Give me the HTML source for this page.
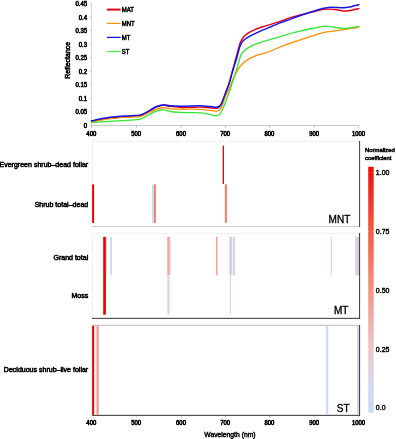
<!DOCTYPE html>
<html lang="en"><head><meta charset="utf-8"><title>Reflectance spectra and normalized coefficients</title>
<style>html,body{margin:0;padding:0;background:#fff}svg{display:block;will-change:transform}text{font-family:"Liberation Sans",sans-serif;fill:#000;stroke:#000}</style></head><body>
<svg width="396" height="439" viewBox="0 0 396 439">
<rect width="396" height="439" fill="#fff"/>
<g stroke="#bdbdbd" stroke-width="0.9" fill="none">
<path d="M91.5 3.3V125.45" stroke="#d2d2d2"/><path d="M91 125.45H359"/>
<path d="M89.6 125.2H91.5" stroke-width="0.7"/>
<path d="M89.6 111.8H91.5" stroke-width="0.7"/>
<path d="M89.6 98.2H91.5" stroke-width="0.7"/>
<path d="M89.6 84.6H91.5" stroke-width="0.7"/>
<path d="M89.6 71.3H91.5" stroke-width="0.7"/>
<path d="M89.6 57.6H91.5" stroke-width="0.7"/>
<path d="M89.6 44.1H91.5" stroke-width="0.7"/>
<path d="M89.6 30.4H91.5" stroke-width="0.7"/>
<path d="M89.6 16.7H91.5" stroke-width="0.7"/>
<path d="M89.6 3.3H91.5" stroke-width="0.7"/>
<path d="M91.5 125.4V127.8" stroke="#9a9a9a" stroke-width="0.6"/>
<path d="M136.4 125.4V127.8" stroke="#9a9a9a" stroke-width="0.6"/>
<path d="M181.2 125.4V127.8" stroke="#9a9a9a" stroke-width="0.6"/>
<path d="M225.4 125.4V127.8" stroke="#9a9a9a" stroke-width="0.6"/>
<path d="M269.6 125.4V127.8" stroke="#9a9a9a" stroke-width="0.6"/>
<path d="M314.3 125.4V127.8" stroke="#9a9a9a" stroke-width="0.6"/>
<path d="M358.7 125.4V127.8" stroke="#9a9a9a" stroke-width="0.6"/>
</g>
<text transform="translate(87.1 127.7) scale(0.940 1)" font-size="6.4" text-anchor="end" stroke-width="0.60">0</text>
<text transform="translate(87.1 114.3) scale(0.940 1)" font-size="6.4" text-anchor="end" stroke-width="0.60">0.05</text>
<text transform="translate(87.1 100.7) scale(0.940 1)" font-size="6.4" text-anchor="end" stroke-width="0.60">0.1</text>
<text transform="translate(87.1 87.1) scale(0.940 1)" font-size="6.4" text-anchor="end" stroke-width="0.60">0.15</text>
<text transform="translate(87.1 74.2) scale(0.940 1)" font-size="6.4" text-anchor="end" stroke-width="0.60">0.2</text>
<text transform="translate(87.1 60.1) scale(0.940 1)" font-size="6.4" text-anchor="end" stroke-width="0.60">0.25</text>
<text transform="translate(87.1 47.0) scale(0.940 1)" font-size="6.4" text-anchor="end" stroke-width="0.60">0.3</text>
<text transform="translate(87.1 32.9) scale(0.940 1)" font-size="6.4" text-anchor="end" stroke-width="0.60">0.35</text>
<text transform="translate(87.1 19.6) scale(0.940 1)" font-size="6.4" text-anchor="end" stroke-width="0.60">0.4</text>
<text transform="translate(87.1 5.8) scale(0.940 1)" font-size="6.4" text-anchor="end" stroke-width="0.60">0.45</text>
<text transform="translate(91.3 135.8) scale(0.940 1)" font-size="6.3" text-anchor="middle" stroke-width="0.60">400</text>
<text transform="translate(136.2 135.8) scale(0.940 1)" font-size="6.3" text-anchor="middle" stroke-width="0.60">500</text>
<text transform="translate(181.0 135.8) scale(0.940 1)" font-size="6.3" text-anchor="middle" stroke-width="0.60">600</text>
<text transform="translate(225.2 135.8) scale(0.940 1)" font-size="6.3" text-anchor="middle" stroke-width="0.60">700</text>
<text transform="translate(269.4 135.8) scale(0.940 1)" font-size="6.3" text-anchor="middle" stroke-width="0.60">800</text>
<text transform="translate(314.1 135.8) scale(0.940 1)" font-size="6.3" text-anchor="middle" stroke-width="0.60">900</text>
<text transform="translate(358.5 135.8) scale(0.940 1)" font-size="6.3" text-anchor="middle" stroke-width="0.60">1000</text>
<text transform="translate(69.6 60.3) rotate(-90) scale(0.920 1)" font-size="7.6" text-anchor="middle" stroke-width="0.60">Reflectance</text>
<g fill="none" stroke-linejoin="round" stroke-linecap="round">
<path stroke="#e6001a" stroke-width="1.4" d="M91.5 121.3C94.6 120.8 103.7 118.8 110.2 118.0C116.7 117.2 125.4 116.8 130.4 116.4C135.5 116.0 137.1 116.5 140.5 115.5C143.9 114.5 148.0 111.7 150.6 110.3C153.2 108.9 154.3 108.0 156.0 107.2C157.7 106.4 159.5 105.8 161.0 105.5C162.5 105.2 163.5 105.1 165.0 105.3C166.5 105.5 167.6 106.1 170.2 106.4C172.8 106.8 176.9 107.2 180.3 107.4C183.7 107.6 187.0 107.3 190.4 107.3C193.8 107.2 197.1 107.0 200.5 107.1C203.9 107.2 208.2 107.6 210.6 107.8C213.0 108.0 213.8 108.3 215.0 108.3C216.2 108.3 216.9 108.2 217.6 108.0C218.3 107.8 218.9 107.4 219.4 107.0C219.9 106.6 220.3 106.1 220.7 105.4C221.1 104.7 221.2 104.7 221.9 103.0C222.6 101.3 224.0 97.5 224.8 95.2C225.7 92.9 226.2 91.2 227.0 89.1C227.8 87.0 228.4 85.7 229.3 82.8C230.2 79.9 231.3 75.0 232.2 71.8C233.0 68.6 233.7 66.4 234.4 63.8C235.1 61.2 235.8 58.6 236.5 56.0C237.2 53.4 237.9 50.5 238.5 48.3C239.1 46.1 239.5 44.4 240.3 42.6C241.1 40.8 242.0 39.0 243.2 37.5C244.4 36.0 245.8 34.6 247.7 33.3C249.6 32.0 252.0 30.9 254.4 29.9C256.8 28.8 259.5 27.9 262.0 27.0C264.5 26.1 266.3 25.7 269.3 24.8C272.3 23.9 276.4 22.6 280.0 21.4C283.6 20.2 287.1 18.7 290.6 17.6C294.1 16.5 297.7 15.7 301.2 14.8C304.7 13.9 308.3 13.0 311.8 12.1C315.3 11.2 319.6 10.0 322.4 9.5C325.2 9.0 326.7 9.1 328.8 9.1C330.9 9.1 332.7 9.2 335.2 9.5C337.7 9.8 341.1 10.8 343.6 11.0C346.1 11.2 348.2 10.8 350.0 10.6C351.8 10.3 352.7 9.8 354.2 9.5C355.7 9.2 358.1 8.7 358.9 8.5"/>
<path stroke="#ff8c00" stroke-width="1.3" d="M91.5 121.8C94.6 121.3 103.7 119.4 110.2 118.6C116.7 117.8 125.4 117.4 130.4 117.0C135.5 116.6 137.1 117.1 140.5 116.3C143.9 115.5 148.0 113.2 150.6 112.0C153.2 110.8 154.3 110.1 156.0 109.4C157.7 108.7 159.5 108.3 161.0 108.0C162.5 107.7 163.5 107.7 165.0 107.8C166.5 107.9 167.6 108.6 170.2 108.8C172.8 109.0 176.9 109.1 180.3 109.2C183.7 109.3 187.0 109.2 190.4 109.2C193.8 109.2 197.1 109.1 200.5 109.3C203.9 109.5 208.2 110.3 210.6 110.6C213.0 110.9 213.8 111.0 215.0 111.1C216.2 111.2 216.9 111.2 217.6 111.0C218.3 110.8 218.9 110.6 219.4 110.2C219.9 109.8 220.3 109.4 220.7 108.8C221.1 108.2 221.2 108.3 221.9 106.5C222.6 104.7 224.0 100.2 224.8 98.0C225.7 95.8 226.2 94.6 227.0 93.0C227.8 91.4 228.4 90.3 229.3 88.3C230.2 86.3 231.3 82.9 232.2 80.9C233.0 78.9 233.7 77.8 234.4 76.3C235.2 74.8 235.8 73.6 236.7 72.0C237.6 70.4 238.6 68.3 239.8 66.7C241.0 65.1 242.7 63.5 244.1 62.2C245.5 60.9 246.8 60.1 248.5 59.1C250.2 58.1 252.2 57.2 254.4 56.3C256.6 55.4 259.5 54.6 262.0 53.8C264.5 53.0 266.3 52.6 269.3 51.5C272.3 50.4 276.4 48.4 280.0 47.0C283.6 45.6 287.1 44.3 290.6 43.1C294.1 41.9 297.7 40.9 301.2 39.7C304.7 38.5 308.3 37.2 311.8 36.1C315.3 35.0 319.9 33.6 322.4 32.9C324.9 32.2 324.9 32.1 326.7 31.8C328.5 31.5 330.2 31.6 333.0 31.2C335.8 30.8 340.8 30.1 343.6 29.7C346.4 29.3 348.2 28.9 350.0 28.6C351.8 28.3 352.7 28.2 354.2 28.0C355.7 27.8 358.1 27.3 358.9 27.2"/>
<path stroke="#1414e6" stroke-width="1.5" d="M91.5 120.8C94.6 120.2 103.7 118.1 110.2 117.3C116.7 116.5 125.4 116.1 130.4 115.7C135.5 115.3 137.1 115.9 140.5 114.9C143.9 113.9 148.0 111.2 150.6 109.8C153.2 108.4 154.3 107.6 156.0 106.8C157.7 106.0 159.5 105.5 161.0 105.2C162.5 104.9 163.5 104.9 165.0 105.0C166.5 105.1 167.6 105.6 170.2 105.8C172.8 106.0 176.9 106.2 180.3 106.2C183.7 106.2 187.0 106.1 190.4 106.0C193.8 105.9 197.1 105.7 200.5 105.8C203.9 105.9 208.2 106.4 210.6 106.6C213.0 106.8 213.8 107.1 215.0 107.2C216.2 107.3 216.9 107.2 217.6 107.0C218.3 106.8 218.9 106.6 219.4 106.2C219.9 105.8 220.3 105.4 220.7 104.8C221.1 104.2 221.2 104.2 221.9 102.6C222.6 101.0 224.0 97.2 224.8 95.0C225.7 92.8 226.2 91.1 227.0 89.1C227.8 87.1 228.4 85.8 229.3 83.1C230.2 80.4 231.3 75.8 232.2 72.8C233.0 69.8 233.7 67.8 234.4 65.4C235.1 63.0 235.9 60.9 236.6 58.5C237.3 56.1 238.0 53.2 238.6 51.0C239.2 48.8 239.6 47.0 240.4 45.3C241.2 43.6 242.0 42.1 243.2 40.8C244.4 39.5 245.8 38.4 247.7 37.3C249.6 36.1 252.0 35.0 254.4 33.9C256.8 32.8 259.5 31.5 262.0 30.4C264.5 29.3 266.3 28.6 269.3 27.4C272.3 26.1 276.4 24.3 280.0 22.9C283.6 21.5 287.1 20.4 290.6 19.1C294.1 17.8 297.7 16.5 301.2 15.3C304.7 14.1 308.3 12.8 311.8 11.7C315.3 10.6 319.6 9.2 322.4 8.5C325.2 7.8 326.7 7.6 328.8 7.4C330.9 7.2 332.7 7.3 335.2 7.4C337.7 7.5 341.1 7.9 343.6 7.8C346.1 7.7 348.2 7.3 350.0 7.0C351.8 6.7 352.7 6.1 354.2 5.7C355.7 5.3 358.1 4.9 358.9 4.7"/>
<path stroke="#33e633" stroke-width="1.3" d="M91.5 122.6C94.6 122.4 103.7 121.7 110.2 121.3C116.7 120.9 125.4 120.5 130.4 120.1C135.5 119.7 137.1 120.1 140.5 119.1C143.9 118.1 148.0 115.2 150.6 113.9C153.2 112.6 154.3 111.9 156.0 111.2C157.7 110.5 159.5 110.2 161.0 110.0C162.5 109.8 163.5 109.8 165.0 110.1C166.5 110.3 167.6 111.1 170.2 111.5C172.8 111.9 176.9 112.2 180.3 112.4C183.7 112.6 187.0 112.5 190.4 112.6C193.8 112.7 197.1 112.6 200.5 112.9C203.9 113.2 208.3 114.1 210.6 114.6C212.9 115.0 213.4 115.4 214.5 115.6C215.6 115.8 216.4 115.7 217.2 115.6C218.0 115.5 218.6 115.2 219.2 114.8C219.8 114.4 220.1 113.9 220.6 113.2C221.1 112.5 221.2 112.3 221.9 110.8C222.6 109.2 224.0 106.0 224.8 103.9C225.7 101.8 226.2 100.0 227.0 98.0C227.8 96.0 228.4 94.5 229.3 92.0C230.2 89.5 231.3 85.7 232.2 83.1C233.0 80.5 233.7 78.7 234.4 76.5C235.1 74.3 235.9 72.0 236.6 69.8C237.3 67.6 237.8 65.5 238.4 63.5C239.0 61.5 239.4 59.2 240.0 57.5C240.6 55.8 241.2 54.5 242.0 53.3C242.8 52.1 243.5 51.3 244.6 50.4C245.7 49.5 246.9 48.6 248.5 47.6C250.1 46.6 252.2 45.5 254.4 44.6C256.6 43.7 259.5 42.8 262.0 42.0C264.5 41.2 266.3 40.7 269.3 39.8C272.3 38.9 276.4 37.6 280.0 36.6C283.6 35.6 287.1 34.5 290.6 33.5C294.1 32.5 297.7 31.6 301.2 30.8C304.7 30.0 308.8 29.1 311.8 28.5C314.8 27.9 317.1 27.4 319.0 27.0C320.9 26.6 321.8 26.5 323.0 26.4C324.2 26.3 325.3 26.2 326.5 26.3C327.7 26.4 328.6 26.5 330.0 26.7C331.4 26.9 332.7 27.2 335.0 27.5C337.3 27.8 341.1 28.2 343.6 28.3C346.1 28.4 348.2 28.2 350.0 28.0C351.8 27.8 352.7 27.4 354.2 27.2C355.7 26.9 358.1 26.6 358.9 26.5"/>
</g>
<path d="M107 9.6H120.7" stroke="#e6001a" stroke-width="2.0"/>
<text transform="translate(121.7 11.9) scale(0.920 1)" font-size="6.5" text-anchor="start" stroke-width="0.50">MAT</text>
<path d="M107 23.4H120.7" stroke="#ff8c00" stroke-width="1.2"/>
<text transform="translate(121.7 25.7) scale(0.920 1)" font-size="6.5" text-anchor="start" stroke-width="0.50">MNT</text>
<path d="M107 37.4H120.7" stroke="#1414e6" stroke-width="1.3"/>
<text transform="translate(121.7 39.7) scale(0.920 1)" font-size="6.5" text-anchor="start" stroke-width="0.50">MT</text>
<path d="M107 51.5H120.7" stroke="#44ee44" stroke-width="1.3"/>
<text transform="translate(121.7 53.8) scale(0.920 1)" font-size="6.5" text-anchor="start" stroke-width="0.50">ST</text>
<path d="M92.3 226.6V141.4H359.5" fill="none" stroke="#f1f1f1" stroke-width="1"/>
<path d="M92 226.6H359.5" fill="none" stroke="#cccccc" stroke-width="1"/>
<path d="M359.6 141V227.1" fill="none" stroke="#3c3c3c" stroke-width="1"/>
<rect x="222.7" y="145.6" width="1.3" height="38.4" fill="#ee0000"/>
<rect x="92.1" y="184.3" width="2.0" height="38.6" fill="#ee0000"/>
<rect x="152.1" y="184.3" width="2.0" height="38.6" fill="#c6d9f6"/>
<rect x="154.1" y="184.3" width="1.8" height="38.6" fill="#f4766a"/>
<rect x="224.8" y="184.3" width="2.2" height="38.6" fill="#f5857a"/>
<path d="M92.3 318V233.3H359.5" fill="none" stroke="#f1f1f1" stroke-width="1"/>
<path d="M92 318.35H360.1M359.6 233V318.35" fill="none" stroke="#333" stroke-width="1"/>
<rect x="103.2" y="236.8" width="2.7" height="77.8" fill="#ee0000"/>
<rect x="105.9" y="236.8" width="1.1" height="38.5" fill="#c6d9f6"/>
<rect x="110.2" y="236.8" width="1.8" height="38.5" fill="#c6d9f6"/>
<rect x="167.3" y="236.8" width="2.4" height="38.5" fill="#f5a29c"/>
<rect x="169.7" y="236.8" width="1.1" height="38.5" fill="#dcd3ee"/>
<rect x="167.3" y="275.3" width="2.3" height="39.3" fill="#e8d0e0"/>
<rect x="216.2" y="236.8" width="1.2" height="38.5" fill="#f28a84"/>
<rect x="229.6" y="236.8" width="1.2" height="38.5" fill="#f4a8a4"/>
<rect x="230.8" y="236.8" width="1.5" height="38.5" fill="#c6d9f6"/>
<rect x="232.8" y="236.8" width="1.1" height="38.5" fill="#c6d9f6"/>
<rect x="233.9" y="236.8" width="1.0" height="38.5" fill="#e8c4d4"/>
<rect x="229.8" y="275.3" width="1.1" height="39.3" fill="#c6d9f6"/>
<rect x="330.8" y="236.8" width="1.2" height="38.5" fill="#cdd9f5"/>
<rect x="355.0" y="236.8" width="2.1" height="38.5" fill="#cfd8f7"/>
<rect x="357.1" y="236.8" width="1.9" height="38.5" fill="#e8c2ce"/>
<path d="M92.3 415V325.3H359.5" fill="none" stroke="#bbbbbb" stroke-width="1"/>
<path d="M92 415.35H360.1M359.6 325V415.35" fill="none" stroke="#333" stroke-width="1"/>
<path d="M91.5 416V418" stroke="#aaa" stroke-width="0.5"/>
<path d="M136.4 416V418" stroke="#aaa" stroke-width="0.5"/>
<path d="M181.2 416V418" stroke="#aaa" stroke-width="0.5"/>
<path d="M225.4 416V418" stroke="#aaa" stroke-width="0.5"/>
<path d="M269.6 416V418" stroke="#aaa" stroke-width="0.5"/>
<path d="M314.3 416V418" stroke="#aaa" stroke-width="0.5"/>
<path d="M358.7 416V418" stroke="#aaa" stroke-width="0.5"/>
<rect x="92.2" y="325.8" width="2.0" height="89.0" fill="#ee0000"/>
<rect x="96.5" y="325.8" width="2.2" height="89.0" fill="#f4938a"/>
<rect x="326.1" y="325.8" width="2.1" height="89.0" fill="#c8dcf8"/>
<rect x="357.0" y="325.8" width="2.0" height="89.0" fill="#d9d1ea"/>
<text transform="translate(350.4 222.9) scale(0.950 1)" font-size="10.6" text-anchor="end" stroke-width="0.35">MNT</text>
<text transform="translate(348.5 313.9) scale(0.950 1)" font-size="10.6" text-anchor="end" stroke-width="0.35">MT</text>
<text transform="translate(349.6 411.5) scale(0.950 1)" font-size="10.6" text-anchor="end" stroke-width="0.35">ST</text>
<text transform="translate(88.2 166.8) scale(0.965 1)" font-size="7.3" text-anchor="end" stroke-width="0.55">Evergreen shrub–dead foliar</text>
<text transform="translate(88.2 206.9) scale(0.965 1)" font-size="7.3" text-anchor="end" stroke-width="0.55">Shrub total–dead</text>
<text transform="translate(88.2 259.8) scale(0.965 1)" font-size="7.3" text-anchor="end" stroke-width="0.55">Grand total</text>
<text transform="translate(88.2 297.6) scale(0.965 1)" font-size="7.3" text-anchor="end" stroke-width="0.55">Moss</text>
<text transform="translate(88.2 372.4) scale(0.965 1)" font-size="7.3" text-anchor="end" stroke-width="0.55">Deciduous shrub–live foliar</text>
<text transform="translate(91.3 425.3) scale(0.940 1)" font-size="6.3" text-anchor="middle" stroke-width="0.60">400</text>
<text transform="translate(136.2 425.3) scale(0.940 1)" font-size="6.3" text-anchor="middle" stroke-width="0.60">500</text>
<text transform="translate(181.0 425.3) scale(0.940 1)" font-size="6.3" text-anchor="middle" stroke-width="0.60">600</text>
<text transform="translate(225.2 425.3) scale(0.940 1)" font-size="6.3" text-anchor="middle" stroke-width="0.60">700</text>
<text transform="translate(269.4 425.3) scale(0.940 1)" font-size="6.3" text-anchor="middle" stroke-width="0.60">800</text>
<text transform="translate(314.1 425.3) scale(0.940 1)" font-size="6.3" text-anchor="middle" stroke-width="0.60">900</text>
<text transform="translate(358.5 425.3) scale(0.940 1)" font-size="6.3" text-anchor="middle" stroke-width="0.60">1000</text>
<text transform="translate(229.9 436.7) scale(0.970 1)" font-size="7.0" text-anchor="middle" stroke-width="0.45">Wavelength (nm)</text>
<defs><linearGradient id="cb" x1="0" y1="0" x2="0" y2="1"><stop offset="0" stop-color="#f20a0a"/><stop offset="0.25" stop-color="#f2573f"/><stop offset="0.5" stop-color="#f29484"/><stop offset="0.75" stop-color="#ebc8cc"/><stop offset="0.9" stop-color="#d0dbf2"/><stop offset="1" stop-color="#c6d9f6"/></linearGradient></defs>
<rect x="368.2" y="166.8" width="5.5" height="245.9" fill="url(#cb)"/>
<path d="M368.2 172.6h1.1M372.6 172.6h1.1" stroke="#fff" stroke-width="0.5" opacity="0.6"/>
<path d="M368.2 231.5h1.1M372.6 231.5h1.1" stroke="#fff" stroke-width="0.5" opacity="0.6"/>
<path d="M368.2 290.4h1.1M372.6 290.4h1.1" stroke="#fff" stroke-width="0.5" opacity="0.6"/>
<path d="M368.2 349.3h1.1M372.6 349.3h1.1" stroke="#fff" stroke-width="0.5" opacity="0.6"/>
<path d="M368.2 408.2h1.1M372.6 408.2h1.1" stroke="#fff" stroke-width="0.5" opacity="0.6"/>
<text transform="translate(365.1 151.6) scale(0.980 1)" font-size="6.0" text-anchor="start" stroke-width="0.50">Normalized</text>
<text transform="translate(365.1 159.6) scale(0.980 1)" font-size="6.0" text-anchor="start" stroke-width="0.50">coefficient</text>
<text transform="translate(375.8 175.0)" font-size="7.0" text-anchor="start" stroke-width="0.40">1.00</text>
<text transform="translate(375.8 233.9)" font-size="7.0" text-anchor="start" stroke-width="0.40">0.75</text>
<text transform="translate(375.8 292.8)" font-size="7.0" text-anchor="start" stroke-width="0.40">0.50</text>
<text transform="translate(375.8 351.8)" font-size="7.0" text-anchor="start" stroke-width="0.40">0.25</text>
<text transform="translate(375.8 410.4)" font-size="7.0" text-anchor="start" stroke-width="0.40">0.0</text>
</svg></body></html>
